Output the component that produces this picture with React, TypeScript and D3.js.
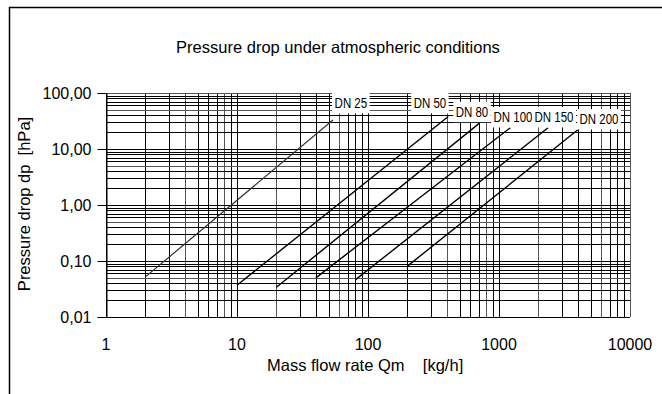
import React, { useEffect, useRef } from 'react';
import * as d3 from 'd3';

// pipe sizes and the ends of each line
const sizes = ['DN 25', 'DN 50', 'DN 80', 'DN 100', 'DN 150', 'DN 200'];
const flowStart = [2, 10, 20, 40, 80, 200];
const dropStart = [0.052, 0.037, 0.034, 0.05, 0.046, 0.081];
const flowEnd = [54, 410, 710, 1220, 2370, 4000];
const dropEnd = [33, 38, 29, 24, 24, 22];
// where the size labels sit (data units)
const labelFlow = [74, 297, 622, 1279, 2630, 5800];
const labelDrop = [66, 66, 46, 37, 37, 34];

const xTicks = [1, 10, 100, 1000, 10000];
const yTicks = [0.01, 0.1, 1, 10, 100];
const yTickLabels = ['0,01', '0,10', '1,00', '10,00', '100,00'];

const W = 662;
const H = 394;
const FONT = '"Liberation Sans", Arial, sans-serif';

const App = () => {
  const ref = useRef<SVGSVGElement>(null);

  useEffect(() => {
    const svg = d3.select(ref.current);
    svg.selectAll('*').remove();

    const x = d3.scaleLog().domain([1, 10000]).range([106, 630]);
    const y = d3.scaleLog().domain([0.01, 100]).range([317, 93]);

    // frame (top and left only)
    svg.append('path').attr('d', `M9.5,${H} V7.5 H${W}`).attr('fill', 'none').attr('stroke', '#000').attr('stroke-width', 1.5);

    // minor + major grid
    const xGrid: number[] = [];
    for (let d = 1; d < 10000; d *= 10) for (let m = 1; m <= 10; m++) xGrid.push(d * m);
    const yGrid: number[] = [];
    for (let d = 0.01; d < 99; d *= 10) for (let m = 1; m <= 10; m++) yGrid.push(d * m);

    const grid = svg.append('g').attr('shape-rendering', 'crispEdges');
    grid.selectAll('.vg').data(xGrid).enter().append('line')
      .attr('x1', (d) => Math.round(x(d)) + 0.5).attr('x2', (d) => Math.round(x(d)) + 0.5)
      .attr('y1', y(100)).attr('y2', y(0.01))
      .attr('stroke', (d, i) => (i % 4 === 3 ? '#555' : '#000')).attr('stroke-width', 1);
    grid.selectAll('.hg').data(yGrid).enter().append('line')
      .attr('y1', (d) => Math.round(y(d)) + 0.5).attr('y2', (d) => Math.round(y(d)) + 0.5)
      .attr('x1', x(1)).attr('x2', x(10000))
      .attr('stroke', (d, i) => (i % 5 === 4 ? '#555' : '#000')).attr('stroke-width', 1);

    // y axis line + ticks
    const yAxis = d3.axisLeft(y).tickValues(yTicks).tickSize(9).tickFormat((d, i) => yTickLabels[i]);
    const ya = svg.append('g').attr('transform', `translate(${x(1) + 0.5},0)`).call(yAxis);
    ya.select('.domain').attr('stroke', '#000');
    ya.selectAll('line').attr('stroke', '#000');
    ya.selectAll('text').attr('font-family', FONT).attr('font-size', 16).attr('fill', '#000').attr('x', -15).attr('dy', '0.36em');

    // x tick labels
    svg.append('g').selectAll('text').data(xTicks).enter().append('text')
      .attr('x', (d) => x(d)).attr('y', 350)
      .attr('text-anchor', 'middle').attr('font-family', FONT).attr('font-size', 16)
      .text((d) => String(d));

    // lines
    sizes.forEach((s, i) => {
      const pts: [number, number][] = [[flowStart[i], dropStart[i]], [flowEnd[i], dropEnd[i]]];
      svg.append('path')
        .datum(pts)
        .attr('fill', 'none')
        .attr('stroke', i === 0 ? '#333' : '#000')
        .attr('stroke-width', i === 0 ? 1.2 : 1.4)
        .attr('d', d3.line<[number, number]>().x((d) => x(d[0])).y((d) => y(d[1])));
    });

    // labels with white boxes (condensed text)
    sizes.forEach((s, i) => {
      const g = svg.append('g')
        .attr('transform', `translate(${x(labelFlow[i])},${y(labelDrop[i])}) scale(0.82,1)`);
      const t = g.append('text')
        .attr('x', 0).attr('y', 5)
        .attr('text-anchor', 'middle').attr('font-family', FONT).attr('font-size', 14)
        .text(s);
      const b = (t.node() as SVGTextElement).getBBox();
      g.insert('rect', 'text')
        .attr('x', b.x - 3).attr('y', b.y - 2).attr('width', b.width + 6).attr('height', b.height + 4)
        .attr('fill', '#fff');
    });

    // titles
    svg.append('text').attr('x', 338).attr('y', 53).attr('text-anchor', 'middle')
      .attr('font-family', FONT).attr('font-size', 16.5).text('Pressure drop under atmospheric conditions');
    svg.append('text').attr('x', 267).attr('y', 371)
      .attr('font-family', FONT).attr('font-size', 16.5).attr('xml:space', 'preserve')
      .text('Mass flow rate Qm    [kg/h]');
    svg.append('text').attr('transform', 'translate(30,204) rotate(-90)').attr('text-anchor', 'middle')
      .attr('font-family', FONT).attr('font-size', 16.5).attr('xml:space', 'preserve')
      .text('Pressure drop dp  [hPa]');
  }, []);

  return (
    <svg ref={ref} width={W} height={H} style={{ position: 'absolute', left: 0, top: 0, background: '#fff' }} />
  );
};

export default App;
